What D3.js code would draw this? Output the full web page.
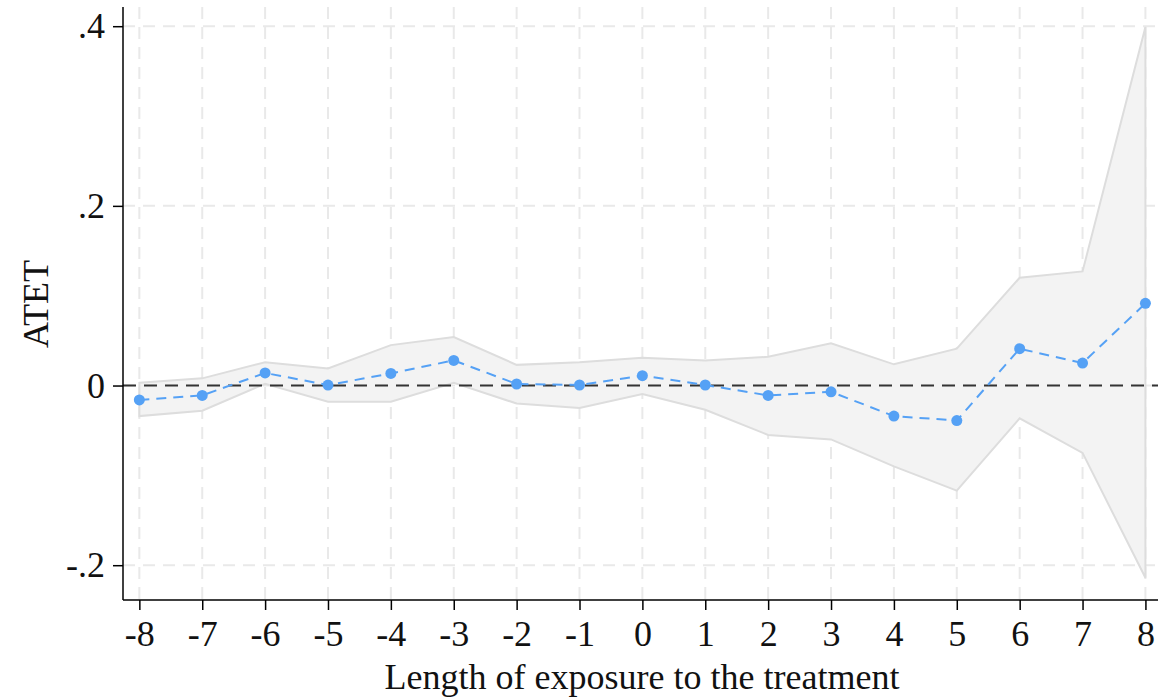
<!DOCTYPE html>
<html>
<head>
<meta charset="utf-8">
<script src="https://cdn.jsdelivr.net/npm/d3@7"></script>
<style>
  body { margin: 0; background: #fff; }
  svg text { font-family: "Liberation Serif", "Times New Roman", serif; fill: #111; }
</style>
</head>
<body>
<svg id="chart" width="1158" height="700"></svg>
<script>
// event time, point estimates and 95% CI
const periods = [-8, -7, -6, -5, -4, -3, -2, -1, 0, 1, 2, 3, 4, 5, 6, 7, 8];
const atet = [-0.016, -0.011, 0.014, 0.0005, 0.0135, 0.028, 0.0017, 0.0006, 0.011, 0.0006, -0.011, -0.007, -0.034, -0.039, 0.041, 0.025, 0.0915];
const ciUpper = [0.003, 0.008, 0.026, 0.019, 0.045, 0.054, 0.023, 0.026, 0.031, 0.028, 0.032, 0.047, 0.0236, 0.041, 0.120, 0.127, 0.399];
const ciLower = [-0.034, -0.028, 0.002, -0.018, -0.018, 0.003, -0.020, -0.025, -0.0095, -0.027, -0.055, -0.060, -0.090, -0.117, -0.0365, -0.075, -0.214];
const yTicks = [-0.2, 0, 0.2, 0.4];
const yTickLabels = ["-.2", "0", ".2", ".4"];

const svg = d3.select("#chart");
const margin = { top: 7, right: 0, bottom: 100, left: 123 };
const width = +svg.attr("width");
const height = +svg.attr("height");

const x = d3.scaleLinear().domain([-8.26, 8.2]).range([margin.left, width - margin.right]);
const y = d3.scaleLinear().domain([-0.2, 0.4]).range([565.2, 26.2]);
const plotBottom = height - margin.bottom;

const data = periods.map((p, i) => ({ p: p, b: atet[i], hi: ciUpper[i], lo: ciLower[i] }));

// grid
const grid = svg.append("g").attr("stroke", "#e9e9e9").attr("stroke-width", 2).attr("stroke-dasharray", "12,8");
grid.selectAll("line.v").data(periods).join("line")
  .attr("x1", d => x(d)).attr("x2", d => x(d))
  .attr("y1", margin.top).attr("y2", plotBottom);
grid.selectAll("line.h").data(yTicks).join("line")
  .attr("x1", margin.left).attr("x2", width)
  .attr("y1", d => y(d)).attr("y2", d => y(d));

// confidence band
const area = d3.area().x(d => x(d.p)).y0(d => y(d.lo)).y1(d => y(d.hi));
svg.append("path").datum(data)
  .attr("d", area)
  .attr("fill", "#f3f3f3")
  .attr("stroke", "#dddddd")
  .attr("stroke-width", 2);

// zero reference line
svg.append("line")
  .attr("x1", margin.left).attr("x2", width)
  .attr("y1", y(0)).attr("y2", y(0))
  .attr("stroke", "#333")
  .attr("stroke-width", 2)
  .attr("stroke-dasharray", "13,8");

// estimates
const line = d3.line().x(d => x(d.p)).y(d => y(d.b));
svg.append("path").datum(data)
  .attr("d", line)
  .attr("fill", "none")
  .attr("stroke", "#55a1f5")
  .attr("stroke-width", 2)
  .attr("stroke-dasharray", "10,7");

svg.selectAll("circle.pt").data(data).join("circle")
  .attr("class", "pt")
  .attr("cx", d => x(d.p))
  .attr("cy", d => y(d.b))
  .attr("r", 5.5)
  .attr("fill", "#55a1f5");

// axes
const xAxis = d3.axisBottom(x).tickValues(periods).tickSize(10).tickPadding(10).tickFormat(d => d);
const gx = svg.append("g").attr("transform", "translate(0," + plotBottom + ")").call(xAxis);
gx.select(".domain").attr("d", "M" + margin.left + ",0H" + width).attr("stroke", "#000").attr("stroke-width", 1.5);
gx.selectAll(".tick line").attr("stroke", "#000").attr("stroke-width", 1.5);
gx.selectAll(".tick text").attr("font-size", 36).attr("fill", "#111");

const yAxis = d3.axisLeft(y).tickValues(yTicks).tickSize(10).tickPadding(8)
  .tickFormat((d, i) => yTickLabels[i]);
const gy = svg.append("g").attr("transform", "translate(" + margin.left + ",0)").call(yAxis);
gy.select(".domain").attr("d", "M0," + margin.top + "V" + plotBottom).attr("stroke", "#000").attr("stroke-width", 1.5);
gy.selectAll(".tick line").attr("stroke", "#000").attr("stroke-width", 1.5);
gy.selectAll(".tick text").attr("font-size", 36).attr("fill", "#111");

// titles
svg.append("text")
  .attr("x", 642).attr("y", 689)
  .attr("text-anchor", "middle")
  .attr("font-size", 36)
  .text("Length of exposure to the treatment");

svg.append("text")
  .attr("transform", "translate(48,304) rotate(-90)")
  .attr("text-anchor", "middle")
  .attr("font-size", 36)
  .text("ATET");
</script>
</body>
</html>
